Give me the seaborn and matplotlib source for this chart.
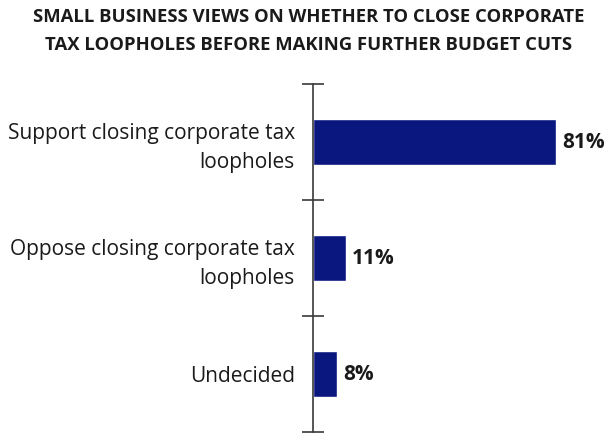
import matplotlib
matplotlib.use("Agg")
import matplotlib.pyplot as plt
from matplotlib.ticker import FixedLocator
import seaborn as sns
import pandas as pd

categories = ["Support closing corporate tax\nloopholes",
              "Oppose closing corporate tax\nloopholes",
              "Undecided"]
values = [81, 11, 8]
value_labels = ["81%", "11%", "8%"]
title = ("SMALL BUSINESS VIEWS ON WHETHER TO CLOSE CORPORATE\n"
         "TAX LOOPHOLES BEFORE MAKING FURTHER BUDGET CUTS")

sns.set_style("white")
plt.rcParams["font.family"] = ["Open Sans", "DejaVu Sans"]

df = pd.DataFrame({"category": categories, "value": values})

fig = plt.figure(figsize=(6.10, 4.34), dpi=100)
ax = fig.add_axes([313 / 610, 2 / 434, 297 / 610, 348 / 434])

bar_color = "#0a177f"
sns.barplot(data=df, x="value", y="category", orient="h", color=bar_color,
            width=0.39, saturation=1, ax=ax)

ax.set_xlim(0, 99)
ax.set_ylim(2.5, -0.5)
ax.set_xlabel("")
ax.set_ylabel("")
ax.set_xticks([])

for side in ("top", "right", "bottom"):
    ax.spines[side].set_visible(False)
ax.spines["left"].set_color("#3a3a3a")
ax.spines["left"].set_linewidth(1.2)

# category labels sit on the major ticks, separators on the minor ticks
ax.tick_params(axis="y", which="major", length=0, pad=13,
               labelsize=15, labelcolor="#1a1a1a")
for lbl in ax.get_yticklabels():
    lbl.set_linespacing(1.45)
ax.yaxis.set_minor_locator(FixedLocator([-0.5, 0.5, 1.5, 2.5]))
ax.tick_params(axis="y", which="minor", direction="inout", length=16,
               width=1.2, color="#3a3a3a", left=True)

for i, (v, t) in enumerate(zip(values, value_labels)):
    ax.text(v + 2.0, i, t, va="center", ha="left", fontsize=15,
            fontweight="bold", color="#1a1a1a")

fig.text(309 / 610, 1 - 31 / 434, title, ha="center", va="center",
         fontsize=13.3, fontweight="bold", color="#1a1a1a", linespacing=1.75)

fig.savefig("out.png", dpi=100)
